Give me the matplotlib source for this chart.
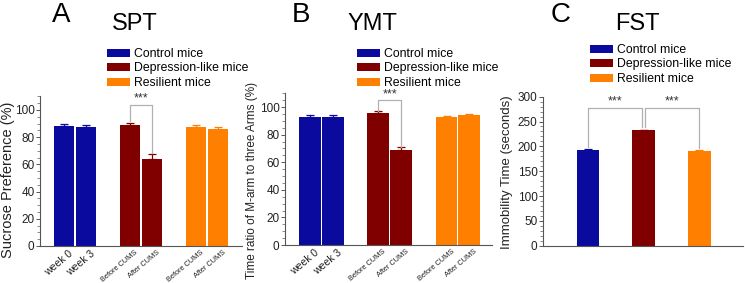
import numpy as np
import matplotlib
matplotlib.use('Agg')
import matplotlib.pyplot as plt
from matplotlib.patches import Patch

plt.rcParams['font.family'] = ['Liberation Sans', 'DejaVu Sans']

# cores dos grupos
azul, vinho, laranja = '#0a0a9e', '#800000', '#ff8000'
grupos = ['Control mice', 'Depression-like mice', 'Resilient mice']

# SPT
spt_labels = ['week 0', 'week 3', 'Before CUMS', 'After CUMS', 'Before CUMS', 'After CUMS']
spt_vals = [88.5, 87.7, 89.2, 64.0, 87.7, 86.2]
spt_err = [1.0, 1.0, 1.0, 3.4, 1.0, 1.2]

# YMT
ymt_labels = ['week 0', 'week 3', 'Before CUMS', 'After CUMS', 'Before CUMS', 'After CUMS']
ymt_vals = [93.0, 92.5, 95.4, 68.6, 92.8, 94.2]
ymt_err = [1.2, 1.4, 1.4, 2.2, 1.0, 1.0]

# FST
fst_vals = [192, 232, 190.5]
fst_err = [2, 1.5, 2]

W, H = 745, 283
fig = plt.figure(figsize=(W/100, H/100), dpi=100)

def eixo(px_left, px_right, px_top, px_bottom):
    '''cria um axes a partir de pixels da imagem'''
    return fig.add_axes([px_left/W, 1-px_bottom/H, (px_right-px_left)/W,
                         (px_bottom-px_top)/H])

def estilo(ax):
    for s in ['top', 'right']:
        ax.spines[s].set_visible(False)
    for s in ['left', 'bottom']:
        ax.spines[s].set_color('#555555')
        ax.spines[s].set_linewidth(0.8)
    ax.minorticks_on()
    ax.tick_params(axis='y', labelsize=8.5, length=3, width=0.7, color='#555555',
                   pad=1, labelcolor='#222222')
    ax.tick_params(axis='y', which='minor', length=2, width=0.6, color='#777777')
    ax.tick_params(axis='x', which='both', length=0)

def colchete(ax, x1, x2, y, y1, y2):
    ax.plot([x1, x1, x2, x2], [y1, y, y, y2], color='#b0b0b0', lw=0.9)
    ax.text((x1+x2)/2, y, '***', ha='center', va='bottom', fontsize=9, color='#333333')

def legenda(ax, x, y):
    h = [Patch(facecolor=c, edgecolor='none') for c in [azul, vinho, laranja]]
    ax.legend(h, grupos, loc='upper left', bbox_to_anchor=(x/W, 1-y/H),
              bbox_transform=fig.transFigure, frameon=False, fontsize=8.8,
              handlelength=1.9, handleheight=0.65, handletextpad=0.3,
              labelspacing=0.2, borderpad=0, borderaxespad=0)

def pares(ax, vals, err, labels):
    pos = np.array([0, 1, 3, 4, 6, 7])
    cores = [azul, azul, vinho, vinho, laranja, laranja]
    for p, v, e, c in zip(pos, vals, err, cores):
        ax.bar(p, v, width=0.95, color=c, edgecolor='none')
        ax.errorbar(p, v, yerr=[[0], [e]], color=c, capsize=3, elinewidth=0.9,
                    capthick=0.9, fmt='none')
    ax.set_xticks(pos + 0.2)
    ax.set_xticklabels(labels, rotation=40, ha='right', rotation_mode='anchor')
    ax.tick_params(axis='x', pad=2)
    for i, t in enumerate(ax.get_xticklabels()):
        t.set_fontsize(7.5 if i < 2 else 5.3)
        t.set_color('#222222')
    return pos

# painel A
axA = eixo(40, 242, 96.4, 246)
pos = pares(axA, spt_vals, spt_err, spt_labels)
axA.set_xlim(-1.09, 8.09)
axA.set_ylim(0, 110)
axA.set_yticks([0, 20, 40, 60, 80, 100])
estilo(axA)
colchete(axA, pos[2], pos[3], 104, 92, 68.4)
legenda(axA, 107, 48)

# painel B
axB = eixo(285, 492, 93.2, 245)
pos = pares(axB, ymt_vals, ymt_err, ymt_labels)
axB.set_xlim(-1.1, 8.0)
axB.set_ylim(0, 110)
axB.set_yticks([0, 20, 40, 60, 80, 100])
estilo(axB)
colchete(axB, pos[2], pos[3], 105, 97, 71)
legenda(axB, 357, 48)

# painel C
axC = eixo(543, 743, 96.7, 245.7)
posC = np.arange(3)
for p, v, e, c in zip(posC, fst_vals, fst_err, [azul, vinho, laranja]):
    axC.bar(p, v, width=0.41, color=c, edgecolor='none')
    axC.errorbar(p, v, yerr=[[0], [e]], color=c, capsize=3, elinewidth=0.9,
                 capthick=0.9, fmt='none')
axC.set_xlim(-0.81, 2.79)
axC.set_ylim(0, 300)
axC.set_yticks(np.arange(0, 301, 50))
axC.set_xticks([])
estilo(axC)
colchete(axC, posC[0], posC[1]-0.03, 278, 199, 239)
colchete(axC, posC[1]+0.03, posC[2], 278, 239, 197)
legenda(axC, 590, 44)

# letras e titulos
for x, letra in [(61, 'A'), (301, 'B'), (561, 'C')]:
    fig.text(x/W, 1-15/H, letra, ha='center', va='center', fontsize=20)
for x, t in [(135, 'SPT'), (372, 'YMT'), (637, 'FST')]:
    fig.text(x/W, 1-24/H, t, ha='center', va='center', fontsize=17)

# rotulos do eixo y
fig.text(8/W, 1-180/H, 'Sucrose Preference (%)', rotation=90, ha='center',
         va='center', fontsize=10.5, color='#222222')
fig.text(252/W, 1-180/H, 'Time ratio of M-arm to three Arms (%)', rotation=90,
         ha='center', va='center', fontsize=8.5, color='#222222')
fig.text(507/W, 1-172/H, 'Immobility Time (seconds)', rotation=90, ha='center',
         va='center', fontsize=9.5, color='#222222')

fig.savefig('out.png', dpi=100)
